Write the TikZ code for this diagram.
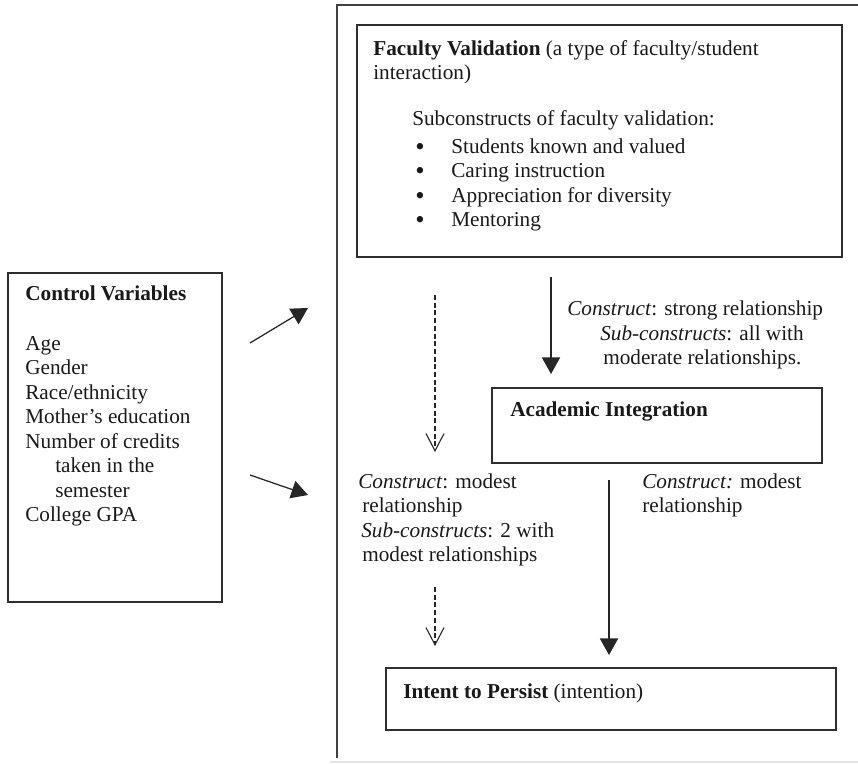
\documentclass[tikz,border=0pt]{standalone}
\usepackage{fontspec}
\setmainfont{Liberation Serif}
\usepackage{tikz}
\usetikzlibrary{arrows.meta,fit}

\newdimen\pxu
\pxu=0.636pt
\newcommand{\fvbullet}{\makebox[36\pxu][l]{\raisebox{-1.1pt}{\fontsize{17}{15.6}\selectfont\textbullet}}}

\begin{document}
\begin{tikzpicture}[x=0.636pt,y=-0.636pt,
        font=\fontsize{13.5}{15.6}\selectfont,
        box/.style={draw=black!82,line width=1.25pt,inner sep=0pt},
        txt/.style={anchor=north west,inner sep=0pt,align=left,text=black!90},
        solidarrow/.style={draw=black!85,line width=0.8pt,-{Triangle[length=10.5pt,width=11.5pt]}},
        dasharrow/.style={draw=black!85,line width=0.7pt,dash pattern=on 3.2pt off 1.7pt,
            -{Straight Barb[length=11pt,width=11.5pt,line width=0.7pt]}}]
    \useasboundingbox (0,0) rectangle (858,764);

    % Frame round the model:
    \draw [black!75,line width=0.9pt] (858,5) -| (337,758);
    \draw [black!10,line width=0.8pt] (330,762) -- (858,762);

    % Boxes:
    \node [box,fit={(357,25) (842,257)}] (fv) {};
    \node [box,fit={(8,273) (222,602)}] (cv) {};
    \node [box,fit={(492,388) (822,463)}] (ai) {};
    \node [box,fit={(386,668) (836,730)}] (ip) {};

    % Texts of the boxes:
    \node [txt] (fvtext) at (373,37.8) {\strut\textbf{Faculty Validation} (a type of faculty/student\\interaction)};
    \node [txt] (fvhead) at (412,108.5) {\strut Subconstructs of faculty validation:};
    \node [txt] (fvlist) at (415,135.8) {\strut
        \fvbullet Students known and valued\\
        \fvbullet Caring instruction\\
        \fvbullet Appreciation for diversity\\
        \fvbullet Mentoring};
    \node [txt] (cvtext) at (25,283.5) {\strut\textbf{Control Variables}\\[15.6pt]
        Age\\Gender\\Race/ethnicity\\Mother's education\\Number of credits\\
        \hspace*{30\pxu}taken in the\\\hspace*{30\pxu}semester\\College GPA};
    \node [txt] (aitext) at (510,399.5) {\strut\textbf{Academic Integration}};
    \node [txt] (iptext) at (403,680.8) {\strut\textbf{Intent to Persist} (intention)};

    % Relationship labels:
    \node [txt] (strong) at (567,298.3) {\strut\textit{Construct}: strong relationship\\
        \hspace*{33\pxu}\textit{Sub-constructs}: all with\\
        \hspace*{36\pxu}moderate relationships.};
    \node [txt] (modestl) at (358,470.8) {\strut\textit{Construct}: modest\\
        \hspace*{4\pxu}relationship\\
        \hspace*{3\pxu}\textit{Sub-constructs}: 2 with\\
        \hspace*{4\pxu}modest relationships};
    \node [txt] (modestr) at (642,470.8) {\strut\textit{Construct:} modest\\relationship};

    % Arrows:
    \coordinate (cvout1) at (250,343);
    \coordinate (cvin1) at (308,308);
    \coordinate (cvout2) at (250,475);
    \coordinate (cvin2) at (308,495);
    \coordinate (fvai1) at (551,277);
    \coordinate (fvai2) at (551,374);
    \coordinate (aiip1) at (609,480);
    \coordinate (aiip2) at (609,655);
    \coordinate (dash1a) at (435,295);
    \coordinate (dash1b) at (435,452);
    \coordinate (dash2a) at (435,587);
    \coordinate (dash2b) at (435,646);

    \draw [solidarrow] (cvout1) -- (cvin1);
    \draw [solidarrow] (cvout2) -- (cvin2);
    \draw [solidarrow] (fvai1) -- (fvai2);
    \draw [solidarrow] (aiip1) -- (aiip2);
    \draw [dasharrow] (dash1a) -- (dash1b);
    \draw [dasharrow] (dash2a) -- (dash2b);
\end{tikzpicture}
\end{document}
